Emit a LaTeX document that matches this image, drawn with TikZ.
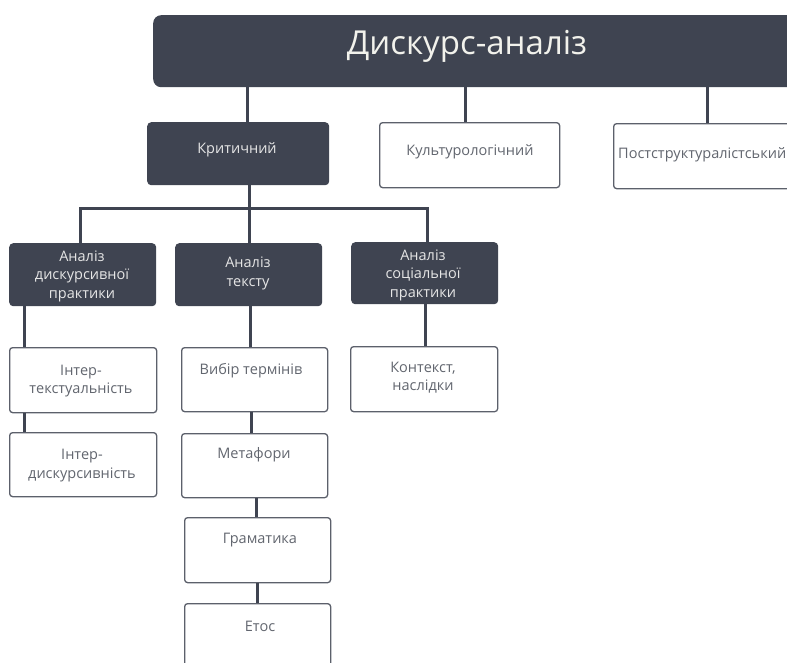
\documentclass[tikz,border=0pt]{standalone}
\usepackage{fontspec}
\setmainfont{Open Sans}
\definecolor{dark}{HTML}{3F4451}
\definecolor{ltext}{HTML}{E6E6E6}
\definecolor{ttext}{HTML}{F2F2EC}
\definecolor{gtext}{HTML}{62666F}
\definecolor{bord}{HTML}{5C606B}
\tikzset{
  dbox/.style={fill=dark, rounded corners=4pt, inner sep=0pt, anchor=north west},
  wbox/.style={draw=bord, line width=1.3pt, fill=white, rounded corners=3pt, inner sep=0pt, anchor=north west},
  dtext/.style={text=ltext, font=\fontsize{14.5}{18.5}\selectfont, align=center, inner sep=0pt},
  wtext/.style={text=gtext, font=\fontsize{14.5}{18.5}\selectfont, align=center, inner sep=0pt},
  conn/.style={draw=dark, line width=3pt}
}
\begin{document}
\begin{tikzpicture}[x=1pt,y=-1pt]
\useasboundingbox (0,0) rectangle (787,662);
\clip (0,0) rectangle (787,662);
% boxes
\node[dbox, minimum width=700pt, minimum height=72pt, rounded corners=8pt] (top) at (153,15) {};
\node[dbox, minimum width=182pt, minimum height=63pt] (crit) at (147,122) {};
\node[wbox, minimum width=180pt, minimum height=65pt] (cult) at (379,122) {};
\node[wbox, minimum width=220pt, minimum height=65pt] (post) at (613,123) {};
\node[dbox, minimum width=147pt, minimum height=63pt] (adp) at (9,243) {};
\node[dbox, minimum width=147pt, minimum height=63pt] (atx) at (175,243) {};
\node[dbox, minimum width=147pt, minimum height=62pt] (asp) at (351,242) {};
\node[wbox, minimum width=147pt, minimum height=65pt] (it) at (9,347) {};
\node[wbox, minimum width=146pt, minimum height=64pt] (vt) at (181,347) {};
\node[wbox, minimum width=147pt, minimum height=65pt] (kn) at (350,346) {};
\node[wbox, minimum width=147pt, minimum height=64pt] (id) at (9,432) {};
\node[wbox, minimum width=146pt, minimum height=64pt] (met) at (181,433) {};
\node[wbox, minimum width=146pt, minimum height=65pt] (gram) at (184,517) {};
\node[wbox, minimum width=146pt, minimum height=90pt] (etos) at (184,603) {};
% texts
\node[text=ttext, font=\fontsize{33}{40}\selectfont, inner sep=0pt] (topT) at (467,46) {Дискурс-аналіз};
\node[dtext] (critT) at (237,150) {Критичний};
\node[wtext] (cultT) at (470,152) {Культурологічний};
\node[wtext, anchor=west] (postT) at (618,155) {Постструктуралістський};
\node[dtext] (adpT) at (82,276) {Аналіз\\дискурсивної\\практики};
\node[dtext] (atxT) at (248,273.5) {Аналіз\\тексту};
\node[dtext] (aspT) at (423,275) {Аналіз\\соціальної\\практики};
\node[wtext] (itT) at (81,381) {Інтер-\\текстуальність};
\node[wtext] (vtT) at (251,371) {Вибір термінів};
\node[wtext] (knT) at (423,377.5) {Контекст,\\наслідки};
\node[wtext] (idT) at (82,465.5) {Інтер-\\дискурсивність};
\node[wtext] (metT) at (254,455) {Метафори};
\node[wtext] (gramT) at (260,540) {Граматика};
\node[wtext] (etosT) at (260,626) {Етос};
% x positions of connectors
\coordinate (c247) at (247,0);
\coordinate (c465) at (465,0);
\coordinate (c707) at (707,0);
\coordinate (j) at (249,208);
\coordinate (c80) at (80,0);
\coordinate (c427) at (427,0);
\coordinate (c24) at (24,0);
\coordinate (c250) at (250,0);
\coordinate (c251) at (251,0);
\coordinate (c256) at (256,0);
\coordinate (c257) at (257,0);
\coordinate (c425) at (425,0);
% connectors
\draw[conn] (top.south -| c247) -- (crit.north -| c247);
\draw[conn] (top.south -| c465) -- (cult.north -| c465);
\draw[conn] (top.south -| c707) -- (post.north -| c707);
\draw[conn] (crit.south -| j) -- (j);
\draw[conn] (adp.north -| c80) |- (j) -| (asp.north -| c427);
\draw[conn] (j) -- (atx.north -| j);
\draw[conn] (adp.south -| c24) -- (it.north -| c24);
\draw[conn] (it.south -| c24) -- (id.north -| c24);
\draw[conn] (atx.south -| c250) -- (vt.north -| c250);
\draw[conn] (vt.south -| c251) -- (met.north -| c251);
\draw[conn] (met.south -| c256) -- (gram.north -| c256);
\draw[conn] (gram.south -| c257) -- (etos.north -| c257);
\draw[conn] (asp.south -| c425) -- (kn.north -| c425);
\end{tikzpicture}
\end{document}
